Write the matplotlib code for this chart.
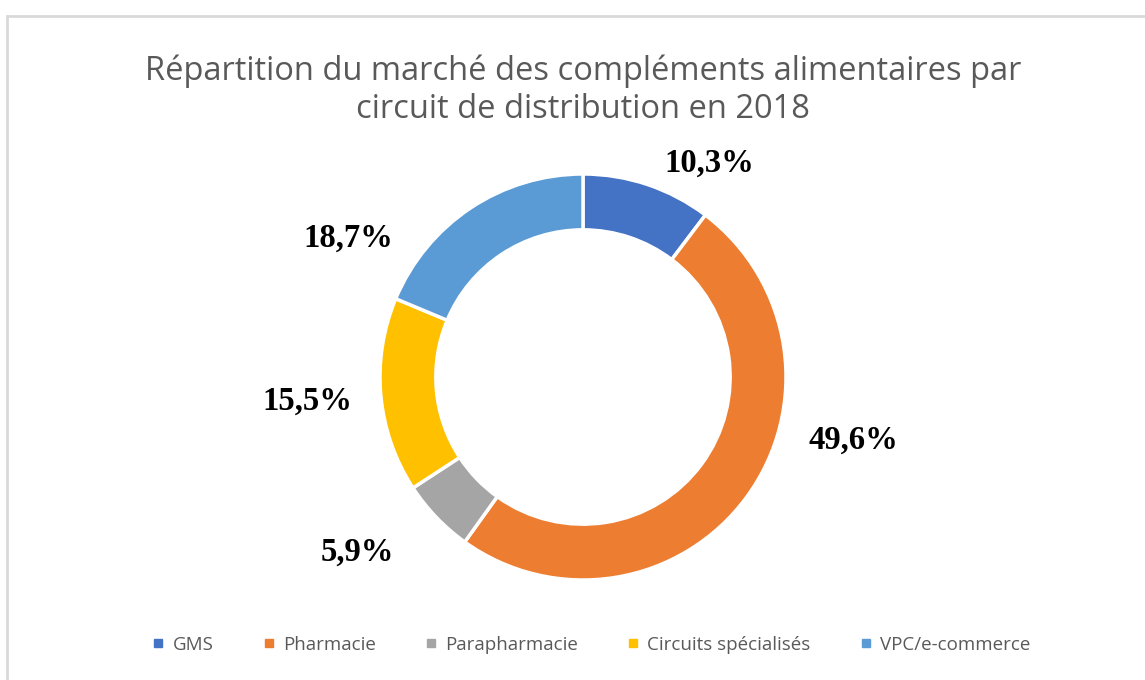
import matplotlib.pyplot as plt
from matplotlib.patches import Rectangle
from matplotlib.lines import Line2D

W, H = 1145, 680

categories = ['GMS', 'Pharmacie', 'Parapharmacie', 'Circuits spécialisés', 'VPC/e-commerce']
shares = [10.3, 49.6, 5.9, 15.5, 18.7]
colors = ['#4472C4', '#ED7D31', '#A5A5A5', '#FFC000', '#5B9BD5']

# where each percentage label sits, in pixels from the top-left corner
label_px = [(709, 163), (853, 440), (357, 552), (307, 401), (348, 238)]

title = 'Répartition du marché des compléments alimentaires par\ncircuit de distribution en 2018'

# donut centre and outer radius, in pixels
cx, cy, r = 583, 377, 203

fig = plt.figure(figsize=(W / 100, H / 100), dpi=100)
fig.patch.set_facecolor('white')

ax = fig.add_axes([0, 0, 1, 1])
ax.pie(shares, colors=colors, radius=1, startangle=90, counterclock=False,
       wedgeprops=dict(width=0.275, edgecolor='white', linewidth=2.5))
ax.set_aspect('auto')
ax.set_xlim(-cx / r, (W - cx) / r)
ax.set_ylim(-(H - cy) / r, cy / r)
ax.axis('off')

for val, (x, y) in zip(shares, label_px):
    fig.text(x / W, 1 - y / H, f'{val:.1f}%'.replace('.', ','),
             ha='center', va='center', fontsize=23.5, fontweight='bold',
             family='Liberation Serif', color='black')

fig.text(583 / W, 1 - 90 / H, title, ha='center', va='center',
         fontsize=23.5, color='#595959', family='Open Sans', linespacing=1.2)

# chart area border
fig.patches.append(Rectangle((6.5 / W, -0.1), 2, 1.1 - 16 / H,
                             transform=fig.transFigure, fill=False,
                             edgecolor='#D9D9D9', linewidth=2))

handles = [Line2D([], [], marker='s', linestyle='none', markersize=6,
                  markerfacecolor=c, markeredgecolor=c) for c in colors]
leg = fig.legend(handles, categories, loc='center', bbox_to_anchor=(591 / W, 1 - 645 / H),
                 ncol=5, frameon=False, handlelength=0.7, handletextpad=0.4,
                 columnspacing=2.6, prop={'family': 'Open Sans', 'size': 13.5})
for t in leg.get_texts():
    t.set_color('#595959')

fig.savefig('out.png', dpi=100)
